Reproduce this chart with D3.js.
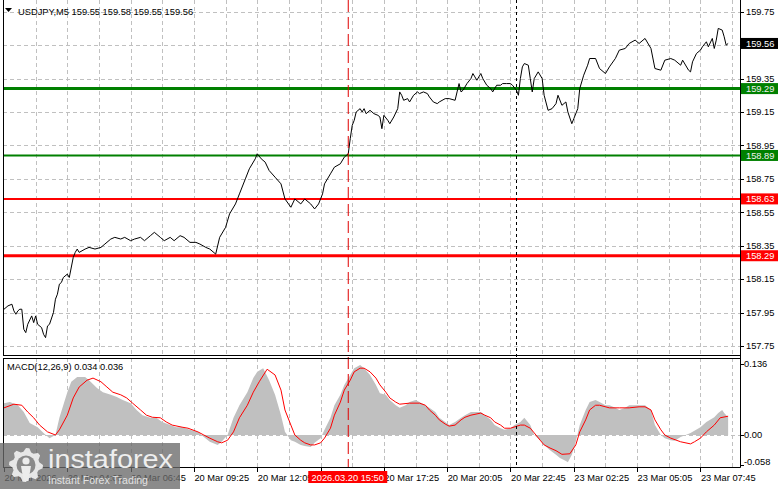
<!DOCTYPE html>
<html><head><meta charset="utf-8">
<script src="https://cdn.jsdelivr.net/npm/d3@7"></script>
<style>
html,body{margin:0;padding:0;background:#fff;overflow:hidden}
svg text{font-family:"Liberation Sans",Arial,sans-serif;}
</style></head><body>
<svg id="c" width="781" height="489"></svg>
<script>
// ---------- DATA ----------
const symbolTitle = "USDJPY,M5";
const ohlc = ["159.55", "159.58", "159.55", "159.56"];
const macdTitle = "MACD(12,26,9)";
const macdValues = ["0.034", "0.036"];
const priceTicks = [157.75, 157.95, 158.15, 158.35, 158.55, 158.75, 158.95, 159.15, 159.35, 159.55, 159.75];
const macdTicks = [0.136, 0, -0.058];
const macdTickLabels = ["0.136", "0.00", "-0.058"];
const timeTickBars = [0, 32, 64, 96, 128, 160, 192, 224, 256, 288, 320, 352];
const timeTickLabels = ["20 Mar 2026", "20 Mar 04:05", "20 Mar 06:45", "20 Mar 09:25", "20 Mar 12:05", "20 Mar 14:45",
  "20 Mar 17:25", "20 Mar 20:05", "20 Mar 22:45", "23 Mar 02:25", "23 Mar 05:05", "23 Mar 07:45"];
const greenLevels = [159.29, 158.89];
const redLevels = [158.63, 158.29];
const currentPrice = 159.56;
const markerBar = 174;
const markerLabel = "2026.03.20 15:50";
const crossBar = 259;
const totalBars = 372;

// [bar index, close]
const price = [[0,157.97],[2,157.99],[4,158.00],[5,157.96],[6,157.94],[7,157.96],[8,157.97],[9,157.97],[10,157.85],[11,157.83],[12,157.88],[14,157.93],[15,157.89],[16,157.93],[17,157.88],[19,157.86],[20,157.82],[21,157.80],[22,157.87],[23,157.88],[25,157.95],[26,158.03],[27,158.06],[28,158.12],[29,158.13],[30,158.16],[32,158.18],[33,158.16],[35,158.28],[36,158.31],[37,158.33],[38,158.31],[41,158.33],[43,158.34],[46,158.33],[49,158.34],[51,158.36],[54,158.39],[56,158.40],[59,158.39],[61,158.40],[64,158.38],[66,158.39],[69,158.40],[71,158.38],[74,158.41],[76,158.43],[79,158.40],[81,158.38],[84,158.40],[86,158.38],[89,158.41],[91,158.40],[94,158.37],[97,158.37],[99,158.36],[102,158.34],[104,158.33],[107,158.30],[109,158.40],[112,158.46],[114,158.54],[117,158.60],[119,158.66],[122,158.75],[124,158.81],[127,158.87],[128,158.90],[130,158.87],[132,158.85],[134,158.80],[137,158.76],[140,158.72],[142,158.63],[145,158.58],[147,158.63],[150,158.60],[152,158.63],[155,158.60],[157,158.57],[159,158.60],[161,158.66],[162,158.72],[165,158.78],[167,158.82],[170,158.84],[172,158.88],[174,158.90],[175,158.99],[176,159.07],[177,159.10],[178,159.15],[180,159.17],[181,159.15],[182,159.17],[183,159.14],[185,159.16],[187,159.14],[189,159.13],[190,159.12],[191,159.05],[192,159.13],[194,159.10],[195,159.08],[197,159.12],[199,159.17],[200,159.27],[201,159.25],[202,159.22],[204,159.23],[205,159.21],[207,159.25],[209,159.27],[210,159.26],[212,159.27],[214,159.26],[215,159.24],[217,159.21],[219,159.20],[220,159.21],[223,159.23],[225,159.23],[228,159.22],[229,159.27],[230,159.32],[231,159.27],[232,159.28],[234,159.32],[236,159.35],[237,159.38],[238,159.36],[239,159.34],[241,159.38],[242,159.35],[244,159.31],[246,159.29],[247,159.27],[248,159.29],[249,159.31],[251,159.31],[252,159.32],[254,159.32],[256,159.32],[257,159.31],[259,159.28],[260,159.25],[261,159.35],[262,159.42],[263,159.44],[265,159.43],[266,159.35],[267,159.27],[268,159.35],[270,159.39],[272,159.35],[273,159.25],[275,159.16],[277,159.17],[279,159.20],[280,159.25],[282,159.19],[284,159.21],[285,159.15],[287,159.08],[288,159.11],[290,159.17],[291,159.29],[293,159.37],[295,159.43],[296,159.47],[299,159.47],[301,159.41],[304,159.38],[306,159.42],[309,159.47],[311,159.52],[314,159.53],[316,159.56],[319,159.58],[321,159.56],[324,159.59],[327,159.53],[329,159.41],[332,159.40],[334,159.46],[337,159.47],[339,159.46],[342,159.43],[343,159.46],[346,159.40],[347,159.39],[348,159.45],[350,159.50],[352,159.52],[353,159.54],[355,159.57],[356,159.54],[358,159.59],[359,159.53],[360,159.58],[361,159.65],[363,159.64],[364,159.60],[365,159.55],[366,159.56]];

// [bar index, MACD main (histogram)]
const macdHist = [[0,0.061],[3,0.063],[7,0.057],[10,0.044],[13,0.023],[17,0.015],[20,0.004],[23,-0.006],[26,0.000],[28,0.033],[32,0.082],[34,0.102],[37,0.111],[41,0.111],[43,0.105],[47,0.090],[50,0.082],[54,0.077],[57,0.073],[60,0.067],[64,0.061],[67,0.048],[70,0.038],[74,0.033],[77,0.033],[80,0.025],[84,0.019],[87,0.015],[90,0.015],[94,0.010],[98,0.006],[101,-0.004],[104,-0.013],[108,-0.019],[110,-0.013],[113,0.000],[116,0.033],[119,0.057],[123,0.082],[126,0.109],[128,0.121],[131,0.128],[134,0.105],[137,0.077],[140,0.038],[142,0.006],[145,-0.010],[147,-0.013],[150,-0.019],[152,-0.021],[155,-0.023],[157,-0.015],[160,-0.006],[162,0.010],[165,0.033],[167,0.057],[170,0.077],[172,0.096],[175,0.115],[177,0.128],[180,0.134],[182,0.128],[185,0.115],[188,0.096],[190,0.080],[193,0.077],[195,0.067],[198,0.057],[200,0.052],[203,0.057],[205,0.063],[208,0.067],[210,0.063],[213,0.057],[215,0.052],[218,0.044],[220,0.033],[223,0.025],[225,0.019],[228,0.025],[231,0.033],[233,0.038],[236,0.044],[238,0.044],[241,0.044],[243,0.038],[246,0.029],[248,0.019],[251,0.013],[253,0.010],[256,0.013],[258,0.019],[261,0.025],[263,0.033],[266,0.019],[268,0.000],[271,-0.010],[273,-0.019],[276,-0.029],[279,-0.038],[281,-0.044],[284,-0.050],[285,-0.052],[287,-0.038],[289,-0.013],[291,0.019],[294,0.048],[296,0.063],[299,0.067],[301,0.063],[304,0.057],[306,0.057],[309,0.052],[311,0.048],[314,0.052],[316,0.057],[319,0.057],[321,0.057],[324,0.057],[327,0.048],[329,0.019],[332,0.000],[334,-0.006],[337,-0.010],[339,-0.011],[342,-0.004],[347,0.004],[352,0.015],[355,0.025],[359,0.034],[361,0.042],[363,0.048],[364,0.042],[366,0.034]];

// [bar index, signal]
const macdSignal = [[0,0.052],[5,0.059],[9,0.057],[12,0.044],[15,0.033],[18,0.019],[22,0.006],[26,0.000],[28,0.010],[32,0.038],[35,0.071],[38,0.092],[42,0.105],[45,0.109],[49,0.102],[52,0.092],[55,0.082],[59,0.077],[62,0.071],[65,0.061],[69,0.048],[72,0.038],[75,0.034],[79,0.033],[82,0.025],[85,0.019],[90,0.015],[93,0.013],[98,0.006],[101,0.000],[104,-0.006],[108,-0.013],[110,-0.015],[113,-0.010],[116,0.006],[119,0.033],[123,0.057],[126,0.082],[129,0.102],[133,0.126],[137,0.115],[140,0.086],[142,0.048],[145,0.019],[147,0.000],[150,-0.010],[152,-0.015],[155,-0.019],[157,-0.019],[160,-0.015],[162,-0.006],[165,0.013],[167,0.038],[170,0.063],[172,0.086],[175,0.105],[177,0.121],[180,0.128],[182,0.128],[185,0.121],[188,0.109],[190,0.096],[193,0.082],[195,0.071],[198,0.063],[200,0.059],[205,0.061],[210,0.061],[213,0.057],[215,0.048],[218,0.038],[220,0.029],[223,0.021],[225,0.017],[228,0.019],[231,0.029],[233,0.034],[236,0.038],[241,0.042],[243,0.038],[246,0.033],[248,0.025],[251,0.019],[253,0.013],[256,0.013],[261,0.019],[263,0.019],[266,0.013],[268,0.004],[271,-0.010],[273,-0.019],[276,-0.025],[279,-0.030],[282,-0.037],[286,-0.036],[289,-0.019],[291,0.006],[294,0.029],[296,0.048],[299,0.057],[301,0.057],[306,0.052],[311,0.052],[316,0.052],[321,0.054],[324,0.054],[327,0.048],[329,0.029],[332,0.010],[334,0.000],[337,-0.006],[342,-0.013],[347,-0.017],[349,-0.013],[352,-0.006],[355,0.006],[359,0.019],[362,0.033],[366,0.036]];

// ---------- LAYOUT ----------
const L = 3, R = 740;
const mainTop = 0, mainBot = 355;
const macdTop = 358, macdBot = 467;
const FS = 9.3;

const svg = d3.select("#c");
const x = d3.scaleLinear().domain([0, totalBars]).range([4, R]);
const y = d3.scaleLinear().domain([157.75, 159.75]).range([346, 11.7]);
const ym = d3.scaleLinear().domain([0, 0.136]).range([435, 364]);

const defs = svg.append("defs");
defs.append("clipPath").attr("id", "cm").append("rect").attr("x", L).attr("y", mainTop).attr("width", R - L).attr("height", mainBot - mainTop);
defs.append("clipPath").attr("id", "cd").append("rect").attr("x", L).attr("y", macdTop).attr("width", R - L).attr("height", macdBot - macdTop);

const gridCol = "#c0c0c0", gridDash = "4,3";

// vertical grid (every 16 bars)
const vgrid = d3.range(16, totalBars, 16);
[[mainTop, mainBot], [macdTop, macdBot]].forEach(([t, b]) => {
  svg.append("g").selectAll("line").data(vgrid).join("line")
    .attr("x1", d => Math.round(x(d)) + 0.5).attr("x2", d => Math.round(x(d)) + 0.5)
    .attr("y1", t).attr("y2", b)
    .attr("stroke", gridCol).attr("stroke-dasharray", gridDash);
});
// horizontal grid main
svg.append("g").selectAll("line").data(priceTicks).join("line")
  .attr("x1", L).attr("x2", R)
  .attr("y1", d => Math.round(y(d)) + 0.5).attr("y2", d => Math.round(y(d)) + 0.5)
  .attr("stroke", gridCol).attr("stroke-dasharray", gridDash);
// zero line macd
svg.append("line").attr("x1", L).attr("x2", R)
  .attr("y1", Math.round(ym(0)) + 0.5).attr("y2", Math.round(ym(0)) + 0.5)
  .attr("stroke", gridCol).attr("stroke-dasharray", gridDash);

// level lines
const lvlW = [3, 2];
const lvlWR = [2, 3];
greenLevels.forEach((v, i) => {
  svg.append("line").attr("x1", L).attr("x2", R).attr("y1", y(v)).attr("y2", y(v))
    .attr("stroke", "#008000").attr("stroke-width", lvlW[i]);
});
redLevels.forEach((v, i) => {
  svg.append("line").attr("x1", L).attr("x2", R).attr("y1", y(v)).attr("y2", y(v))
    .attr("stroke", "#ff0000").attr("stroke-width", lvlWR[i]);
});

// price line
svg.append("path").datum(price)
  .attr("clip-path", "url(#cm)")
  .attr("d", d3.line().x(d => x(d[0])).y(d => y(d[1])))
  .attr("fill", "none").attr("stroke", "#000").attr("stroke-width", 1);

// MACD histogram + signal
const mg = svg.append("g").attr("clip-path", "url(#cd)");
mg.append("path").datum(macdHist)
  .attr("d", d3.area().x(d => x(d[0])).y0(ym(0)).y1(d => ym(d[1])))
  .attr("fill", "#c0c0c0");
mg.append("path").datum(macdSignal)
  .attr("d", d3.line().x(d => x(d[0])).y(d => ym(d[1])))
  .attr("fill", "none").attr("stroke", "#ff0000").attr("stroke-width", 1);

// vertical marker lines
svg.append("line").attr("x1", x(markerBar)).attr("x2", x(markerBar)).attr("y1", 0).attr("y2", macdBot + 1)
  .attr("stroke", "#e00000").attr("stroke-width", 1).attr("stroke-dasharray", "12,5");
svg.append("line").attr("x1", Math.round(x(crossBar)) + 0.5).attr("x2", Math.round(x(crossBar)) + 0.5).attr("y1", 0).attr("y2", macdBot)
  .attr("stroke", "#000").attr("stroke-width", 1).attr("stroke-dasharray", "3,3");

// frames
const fr = svg.append("g").attr("stroke", "#000").attr("stroke-width", 1).attr("fill", "none");
fr.append("line").attr("x1", L + 0.5).attr("x2", L + 0.5).attr("y1", 0).attr("y2", mainBot + 0.5);
fr.append("line").attr("x1", L).attr("x2", R + 0.5).attr("y1", mainBot + 0.5).attr("y2", mainBot + 0.5);
fr.append("line").attr("x1", L).attr("x2", R + 0.5).attr("y1", macdTop + 0.5).attr("y2", macdTop + 0.5);
fr.append("line").attr("x1", L + 0.5).attr("x2", L + 0.5).attr("y1", macdTop).attr("y2", macdBot + 0.5);
fr.append("line").attr("x1", L).attr("x2", R + 0.5).attr("y1", macdBot + 0.5).attr("y2", macdBot + 0.5);
fr.append("line").attr("x1", R + 0.5).attr("x2", R + 0.5).attr("y1", 0).attr("y2", macdBot + 0.5);

// right axis ticks + labels (main); labels hidden where the current-price box sits
const coveredByBox = v => Math.abs(y(v) - y(currentPrice)) < 4;
svg.append("g").selectAll("line").data(priceTicks).join("line")
  .attr("x1", R).attr("x2", R + 4)
  .attr("y1", d => Math.round(y(d)) + 0.5).attr("y2", d => Math.round(y(d)) + 0.5)
  .attr("stroke", "#000");
svg.append("g").selectAll("text").data(priceTicks.filter(v => !coveredByBox(v))).join("text")
  .attr("x", R + 6).attr("y", d => y(d)).attr("dy", "0.36em")
  .attr("font-size", FS).attr("fill", "#000").text(d => d.toFixed(2));

// macd axis
svg.append("g").selectAll("line").data(macdTicks).join("line")
  .attr("x1", R).attr("x2", R + 4)
  .attr("y1", d => Math.round(ym(d)) + 0.5).attr("y2", d => Math.round(ym(d)) + 0.5)
  .attr("stroke", "#000");
svg.append("g").selectAll("text").data(macdTicks).join("text")
  .attr("x", R + 4).attr("y", d => Math.min(ym(d), macdBot - 5)).attr("dy", "0.36em")
  .attr("font-size", FS).attr("fill", "#000").text((d, i) => macdTickLabels[i]);

// price boxes
function priceBox(v, fill, txtCol) {
  const g = svg.append("g");
  g.append("rect").attr("x", R + 1).attr("y", y(v) - 5.5).attr("width", 37).attr("height", 11).attr("fill", fill);
  g.append("text").attr("x", R + 6).attr("y", y(v)).attr("dy", "0.36em")
    .attr("font-size", FS).attr("fill", txtCol).text(v.toFixed(2));
}
priceBox(currentPrice, "#000", "#fff");
greenLevels.forEach(v => priceBox(v, "#008000", "#f0f0f0"));
redLevels.forEach(v => priceBox(v, "#ff0000", "#fff"));

// bottom time axis (the label fully under the marker box is hidden, as on the terminal)
const mx = x(markerBar);
const timeItems = timeTickBars.map((b, i) => ({ b, t: timeTickLabels[i] }))
  .filter(d => !(x(d.b) > mx - 45 && x(d.b) < mx - 5));
svg.append("g").selectAll("line").data(timeTickBars).join("line")
  .attr("x1", d => Math.round(x(d)) + 0.5).attr("x2", d => Math.round(x(d)) + 0.5)
  .attr("y1", macdBot).attr("y2", macdBot + 5).attr("stroke", "#000");
svg.append("g").selectAll("text").data(timeItems).join("text")
  .attr("x", d => x(d.b) + 0.5).attr("y", 481)
  .attr("font-size", FS).attr("fill", "#000").text(d => d.t);

// marker label box
svg.append("rect").attr("x", mx - 40).attr("y", 471).attr("width", 79).attr("height", 12).attr("fill", "#ff0000");
svg.append("text").attr("x", mx - 0.5).attr("y", 481).attr("text-anchor", "middle")
  .attr("font-size", FS).attr("fill", "#fff").text(markerLabel);

// titles
svg.append("path").attr("d", "M5,8 L12,8 L8.5,12 Z").attr("fill", "#000");
svg.append("text").attr("x", 18).attr("y", 15).attr("font-size", FS).attr("fill", "#000")
  .text(symbolTitle + "  " + ohlc.join(" "));
svg.append("text").attr("x", 7).attr("y", 369.5).attr("font-size", FS).attr("fill", "#000")
  .text(macdTitle + " " + macdValues.join(" "));

// watermark logo
const lg = svg.append("g");
lg.append("rect").attr("x", 0).attr("y", 443).attr("width", 180).attr("height", 46)
  .attr("fill", "#6a6a6a").attr("opacity", 0.78);
const cx = 26, cy = 465, rO = 17, rI = 13.5, teeth = 8;
const gp = d3.path();
for (let k = 0; k < teeth * 4; k++) {
  const a = (k / (teeth * 4)) * 2 * Math.PI - Math.PI / 2;
  const r = (Math.floor(k / 2) % 2 === 0) ? rO : rI;
  const px = cx + r * Math.cos(a), py = cy + r * Math.sin(a);
  if (k === 0) gp.moveTo(px, py); else gp.lineTo(px, py);
}
gp.closePath();
lg.append("path").attr("d", gp.toString()).attr("fill", "#ececec").attr("opacity", 0.95);
lg.append("circle").attr("cx", cx).attr("cy", cy).attr("r", 9.5).attr("fill", "#8a8a8a");
lg.append("circle").attr("cx", cx).attr("cy", cy - 4).attr("r", 3.6).attr("fill", "#ececec");
lg.append("path").attr("d", `M${cx-5},${cy+1} L${cx+5},${cy+1} L${cx+2.5},${cy+16} L${cx-2.5},${cy+16} Z`).attr("fill", "#ececec");
lg.append("text").attr("x", 48).attr("y", 468).attr("font-size", 26).attr("fill", "#f4f4f4")
  .attr("textLength", 125).attr("lengthAdjust", "spacingAndGlyphs").attr("opacity", 0.95).text("instaforex");
lg.append("text").attr("x", 48).attr("y", 484).attr("font-size", 10.5).attr("fill", "#e8e8e8")
  .attr("textLength", 100).attr("lengthAdjust", "spacingAndGlyphs").attr("opacity", 0.95).text("Instant Forex Trading");
</script>
</body></html>
